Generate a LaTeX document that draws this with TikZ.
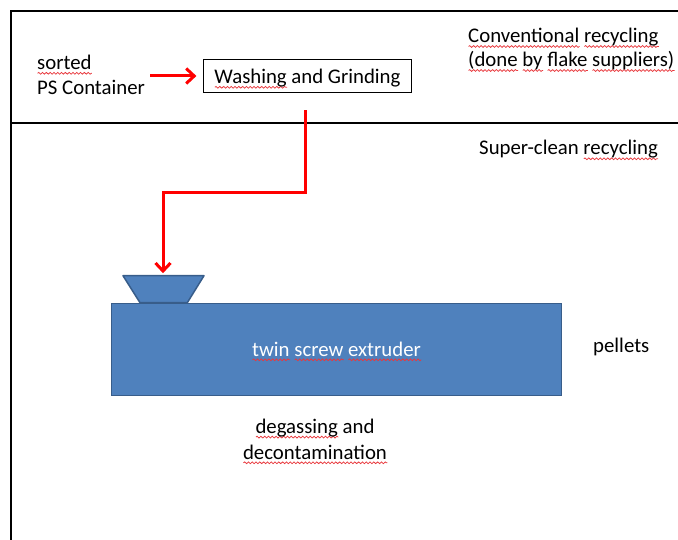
\documentclass[tikz,border=0pt]{standalone}
\usepackage{fontspec}
\setmainfont{Carlito}
\usetikzlibrary{arrows.meta,decorations.pathmorphing}
\definecolor{boxblue}{HTML}{4F81BD}
\definecolor{boxedge}{HTML}{385D8A}
\definecolor{arrowred}{HTML}{FF0000}
\definecolor{squig}{HTML}{E8383D}
\newsavebox\sqbox
\newcommand\sq[1]{\sbox\sqbox{#1}\rlap{\tikz[baseline=0pt]\draw[draw=squig, line width=0.75pt, decorate, decoration={snake, amplitude=0.9pt, segment length=3.8pt}] (0pt,-3.8pt) -- (\wd\sqbox,-3.8pt);}#1}
\begin{document}
\begin{tikzpicture}[x=1pt,y=-1pt,
  basefont/.style={font=\fontsize{20.8}{24}\selectfont},
  txt/.style={basefont, inner sep=0pt, anchor=base west},
  ctxt/.style={basefont, inner sep=0pt, anchor=base},
  frame/.style={line width=2pt, black},
  washbox/.style={basefont, draw=black, line width=1.2pt, inner sep=0pt,
    minimum width=208pt, minimum height=33pt, text height=15pt, text depth=0pt},
  extruder/.style={basefont, fill=boxblue, draw=boxedge, line width=1.5pt, inner sep=0pt,
    minimum width=450pt, minimum height=92pt, text height=13.4pt, text depth=0pt, text=white},
  hopperstyle/.style={fill=boxblue, draw=boxedge, line width=1.5pt, line join=round},
  redarrow/.style={draw=arrowred, line width=3pt, -{Straight Barb[length=8pt,width=15pt]}}
]
\useasboundingbox (0,0) rectangle (678,540);
% frame
\draw[frame] (678,11) -- (11,11) -- (11,540);
\draw[frame] (11,123) -- (678,123);
% top section
\node[txt] (sorted) at (37,69.5) {\sq{sorted}};
\node[txt] (ps) at (37,94.5) {PS Container};
\node[washbox] (wash) at (307.5,76) {\sq{Washing} and Grinding};
\node[txt] (conv) at (468,42.7) {\sq{Conventional} \sq{recycling}};
\node[txt] (done) at (468,66.7) {\sq{(done} \sq{by} \sq{flake} \sq{suppliers)}};
% bottom section
\node[txt] (super) at (479,155) {Super-clean \sq{recycling}};
\path[hopperstyle] (123,275.7) -- (204,275.7) -- (187.3,302.7) -- (140,302.7) -- cycle;
\coordinate (hoptop) at (163,275.7);
\node[extruder] (ext) at (336.5,349.3) {\sq{twin} \sq{screw} \sq{extruder}};
\node[txt] (pellets) at (593,352.7) {pellets};
\node[ctxt] (degas) at (315,433.3) {\sq{degassing} and};
\node[ctxt] (decon) at (315,459) {\sq{decontamination}};
% connectors
\coordinate (a0) at (150,76);
\draw[redarrow, shorten >=6.5pt] (a0) -- (wash.west);
\coordinate (r0) at (305,110.5);
\draw[redarrow, shorten >=2.5pt] (r0) |- (163,193) -- (hoptop);
\end{tikzpicture}
\end{document}
